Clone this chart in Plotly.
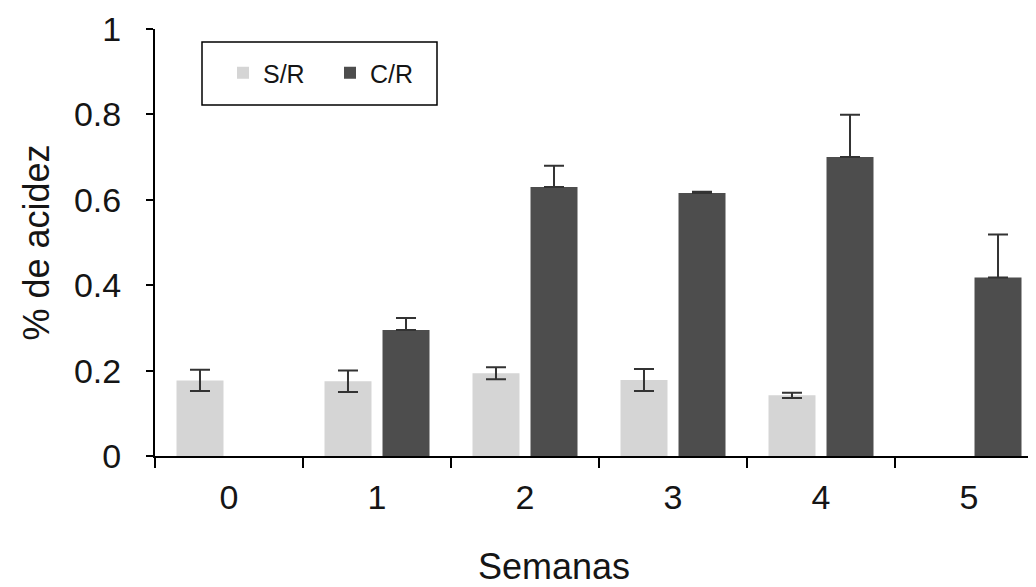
import plotly.graph_objects as go

semanas = ["0", "1", "2", "3", "4", "5"]
sr_vals = [0.177, 0.175, 0.194, 0.178, 0.142, None]
sr_err = [0.025, 0.025, 0.014, 0.026, 0.006, None]
cr_vals = [None, 0.295, 0.630, 0.616, 0.700, 0.418]
cr_err = [None, 0.028, 0.050, 0.003, 0.099, 0.101]
cr_err_minus = [None, 0, 0, 0, 0, 0]
y_ticks = [0, 0.2, 0.4, 0.6, 0.8, 1]
y_ticktext = ["0", "0.2", "0.4", "0.6", "0.8", "1"]

FONT = "Liberation Sans, Arial, sans-serif"
TXT = "#151515"

fig = go.Figure()
fig.add_trace(go.Bar(
    name="S/R", x=semanas, y=sr_vals,
    marker=dict(color="#d5d5d5", line=dict(width=0)),
    error_y=dict(type="data", array=sr_err, visible=True,
                 color="#333333", thickness=2, width=10),
))
fig.add_trace(go.Bar(
    name="C/R", x=semanas, y=cr_vals,
    marker=dict(color="#4d4d4d", line=dict(width=0)),
    error_y=dict(type="data", symmetric=False, array=cr_err,
                 arrayminus=cr_err_minus, visible=True,
                 color="#333333", thickness=2, width=10),
))

# the page puts the figure 8px in from the top-left corner
OFF = 8
W, H = 1036, 587
L = 155 - OFF          # y axis line on screen at x=155
T = 29 - OFF           # y=1 on screen at y=29
B = H - (456 - OFF)    # y=0 on screen at y=456
R = 0
pw = W - L - R
ph = H - T - B
CAT = 148.0            # px per category

fig.update_layout(
    width=W, height=H,
    margin=dict(l=L, r=R, t=T, b=B, pad=0, autoexpand=False),
    paper_bgcolor="white", plot_bgcolor="white",
    barmode="group", bargap=0.216, bargroupgap=0.19,
    font=dict(family=FONT, color=TXT),
    showlegend=True,
    legend=dict(
        orientation="h", x=68 / pw, y=(456 - 73) / ph,
        xanchor="left", yanchor="middle",
        bgcolor="rgba(0,0,0,0)", borderwidth=0,
        font=dict(size=25, family=FONT, color=TXT),
        entrywidth=62, entrywidthmode="pixels",
        traceorder="normal",
    ),
    xaxis=dict(
        type="category", range=[-0.5, -0.5 + pw / CAT],
        showline=True, linecolor="black", linewidth=2,
        ticks="outside", tickson="boundaries", ticklen=10, tickwidth=2,
        tickcolor="black", showgrid=False, zeroline=False,
        tickfont=dict(size=34, family=FONT, color=TXT),
        ticklabelstandoff=10,
    ),
    yaxis=dict(
        range=[0, 1], tickvals=y_ticks, ticktext=y_ticktext,
        showline=True, linecolor="black", linewidth=2,
        ticks="outside", ticklen=7, tickwidth=2, tickcolor="black",
        showgrid=False, zeroline=False,
        tickfont=dict(size=34, family=FONT, color=TXT),
        ticklabelstandoff=18,
    ),
    shapes=[dict(
        type="rect", xref="paper", yref="paper",
        x0=(202 - 155) / pw, x1=(437 - 155) / pw,
        y0=(456 - 105) / ph, y1=(456 - 42) / ph,
        line=dict(color="black", width=1.5), fillcolor="rgba(0,0,0,0)",
    )],
    annotations=[
        dict(text="% de acidez", xref="paper", yref="paper", x=0, y=0.5,
             xshift=36 - 155, textangle=-90, showarrow=False,
             xanchor="center", yanchor="middle",
             font=dict(size=36, family=FONT, color=TXT)),
        dict(text="Semanas", xref="paper", yref="paper",
             x=(554 - 155) / pw, y=0, yshift=-(566 - 456), showarrow=False,
             xanchor="center", yanchor="middle",
             font=dict(size=36, family=FONT, color=TXT)),
    ],
)

fig.write_html("out.html")
